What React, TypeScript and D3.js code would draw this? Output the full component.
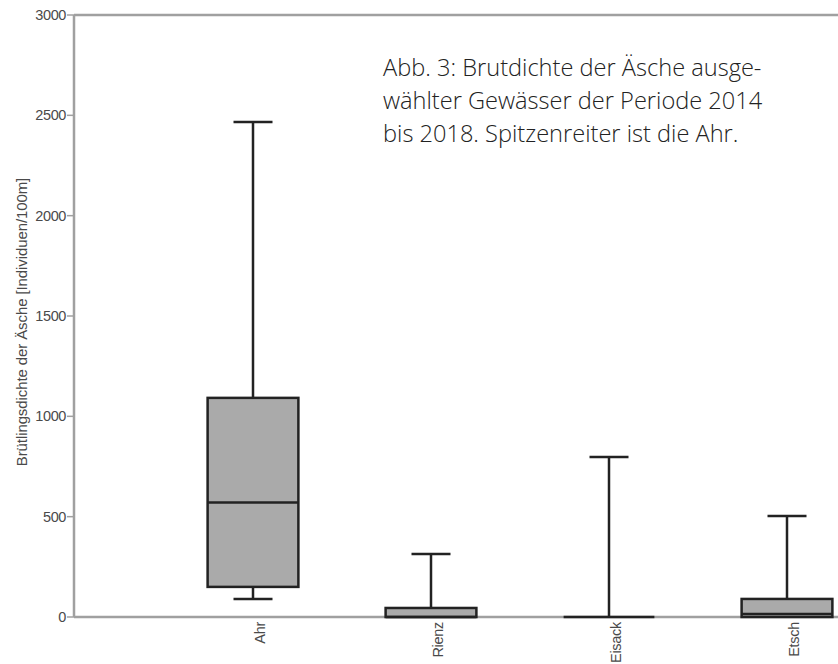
import React from "react";
import * as d3 from "d3";

const categories = ["Ahr", "Rienz", "Eisack", "Etsch"];
const whiskerLow = [90, 0, 0, 0];
const q1 = [150, 0, 0, 0];
const median = [570, 0, 0, 15];
const q3 = [1092, 45, 0, 90];
const whiskerHigh = [2467, 314, 797, 503];
const yTicks = [0, 500, 1000, 1500, 2000, 2500, 3000];
const annotation = [
  "Abb. 3: Brutdichte der Äsche ausge-",
  "wählter Gewässer der Periode 2014",
  "bis 2018. Spitzenreiter ist die Ahr.",
];

export default function App() {
  const W = 838, H = 664;
  const left = 74, top = 15, bottom = 617;
  const y = d3.scaleLinear().domain([0, 3000]).range([bottom, top]);
  const x = d3.scaleBand().domain(categories).range([164, 876]).paddingInner(0).paddingOuter(0);
  const boxW = x.bandwidth() * 0.51;
  const capW = 39;
  const axisColor = "#a0a0a0";
  const stroke = "#222";
  const tickFont = "'Liberation Sans', Arial, sans-serif";
  const labelColor = "#4a4a4a";
  return (
    <svg width={W} height={H} style={{ position: "absolute", left: 0, top: 0, background: "#fff" }}>
      <line x1={left} x2={W} y1={top} y2={top} stroke={axisColor} strokeWidth={2.5} />
      <line x1={left} x2={W} y1={bottom} y2={bottom} stroke={axisColor} strokeWidth={2.5} />
      <line x1={left} x2={left} y1={top} y2={bottom} stroke={axisColor} strokeWidth={2.5} />
      {yTicks.map((t) => (
        <g key={t}>
          <line x1={left - 7} x2={left} y1={y(t)} y2={y(t)} stroke={axisColor} strokeWidth={1.5} />
          <text x={left - 8} y={y(t)} dy="0.35em" textAnchor="end" fontSize={14.5} fill={labelColor} fontFamily={tickFont} letterSpacing={-0.4}>
            {t}
          </text>
        </g>
      ))}
      <text
        transform={`translate(27,322) rotate(-90)`}
        textAnchor="middle"
        fontSize={15}
        fill={labelColor}
        fontFamily={tickFont}
        letterSpacing={-0.1}
      >
        Brütlingsdichte der Äsche [Individuen/100m]
      </text>
      {categories.map((c, i) => {
        const cx = (x(c) as number) + x.bandwidth() / 2;
        return (
          <g key={c}>
            <line x1={cx} x2={cx} y1={y(whiskerHigh[i])} y2={y(q3[i])} stroke={stroke} strokeWidth={2.5} />
            <line x1={cx} x2={cx} y1={y(q1[i])} y2={y(whiskerLow[i])} stroke={stroke} strokeWidth={2.5} />
            <line x1={cx - capW / 2} x2={cx + capW / 2} y1={y(whiskerHigh[i])} y2={y(whiskerHigh[i])} stroke={stroke} strokeWidth={2.5} />
            {whiskerLow[i] < q1[i] && (
              <line x1={cx - capW / 2} x2={cx + capW / 2} y1={y(whiskerLow[i])} y2={y(whiskerLow[i])} stroke={stroke} strokeWidth={2.5} />
            )}
            <rect
              x={cx - boxW / 2}
              y={y(q3[i])}
              width={boxW}
              height={Math.max(0, y(q1[i]) - y(q3[i]))}
              fill="#aaaaaa"
              stroke={stroke}
              strokeWidth={2.5}
            />
            <line x1={cx - boxW / 2} x2={cx + boxW / 2} y1={y(median[i])} y2={y(median[i])} stroke={stroke} strokeWidth={2.5} />
            <text
              transform={`translate(${cx + 12},622) rotate(-90)`}
              textAnchor="end"
              fontSize={14.5}
              fill={labelColor}
              fontFamily={tickFont}
              letterSpacing={-0.3}
            >
              {c}
            </text>
          </g>
        );
      })}
      {annotation.map((l, i) => (
        <text key={i} x={383} y={76 + i * 33} fontSize={23.6} fill="#222" fontFamily="'Open Sans', sans-serif" fontWeight={300}>
          {l}
        </text>
      ))}
    </svg>
  );
}
